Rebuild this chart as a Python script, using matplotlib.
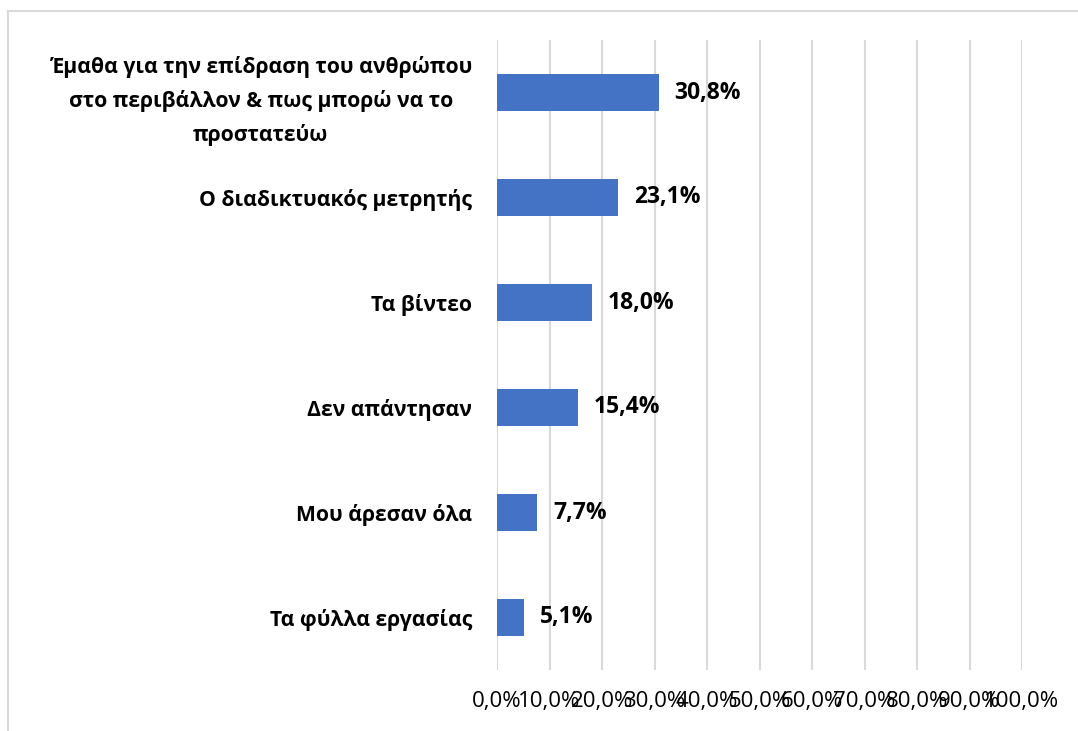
import matplotlib
matplotlib.use("Agg")
import matplotlib.pyplot as plt
from matplotlib.lines import Line2D

plt.rcParams['font.family'] = ['Open Sans', 'DejaVu Sans']

categories = [
    "Έμαθα για την επίδραση του ανθρώπου\nστο περιβάλλον & πως μπορώ να το\nπροστατεύω",
    "Ο διαδικτυακός μετρητής",
    "Τα βίντεο",
    "Δεν απάντησαν",
    "Μου άρεσαν όλα",
    "Τα φύλλα εργασίας",
]
values = [30.8, 23.1, 18.0, 15.4, 7.7, 5.1]
xticks = [0, 10, 20, 30, 40, 50, 60, 70, 80, 90, 100]

def pct(v):
    return f"{v:.1f}%".replace(".", ",")

fig = plt.figure(figsize=(10.78, 7.31), dpi=100)
ax = fig.add_axes([497 / 1078, 1 - 670 / 731, 525 / 1078, 630 / 731])

# chart area frame (top and left edges)
fig.add_artist(Line2D([8 / 1078, 1], [1 - 11 / 731, 1 - 11 / 731],
                      transform=fig.transFigure, color="#D9D9D9", lw=1.5))
fig.add_artist(Line2D([8 / 1078, 8 / 1078], [0, 1 - 11 / 731],
                      transform=fig.transFigure, color="#D9D9D9", lw=1.5))

ypos = list(range(len(categories)))
ax.barh(ypos, values, height=0.36, color="#4472C4", zorder=3)
ax.set_ylim(len(categories) - 0.5, -0.5)
ax.set_xlim(0, 100)

for x in xticks:
    ax.axvline(x, color="#D9D9D9", lw=1.5, zorder=1)

for y, v in zip(ypos, values):
    ax.annotate(pct(v), (v, y), xytext=(11.5, 0), textcoords="offset points",
                ha="left", va="center", fontsize=16.5, fontweight="bold",
                color="#000000")

ax.set_yticks(ypos)
labels = ax.set_yticklabels(categories, fontsize=15.2, fontweight="bold",
                            multialignment="center")
for lab in labels:
    lab.set_linespacing(1.7)
ax.tick_params(axis="y", length=0, pad=18)

ax.set_xticks(xticks)
ax.set_xticklabels([pct(t) for t in xticks], fontsize=16)
ax.tick_params(axis="x", length=0, pad=15)

for s in ax.spines.values():
    s.set_visible(False)

fig.savefig("out.png", dpi=100)
